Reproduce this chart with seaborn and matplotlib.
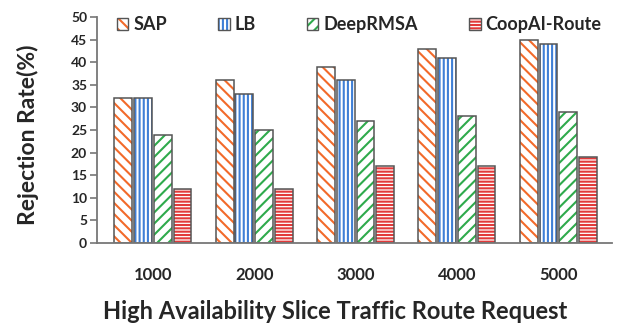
import matplotlib
matplotlib.use("Agg")
import matplotlib.pyplot as plt
from matplotlib.patches import Rectangle, Patch
import seaborn as sns
import pandas as pd

# Rejection rate (%) per method and request load
loads = ["1000", "2000", "3000", "4000", "5000"]
methods = ["SAP", "LB", "DeepRMSA", "CoopAI-Route"]
sap = [32, 36, 39, 43, 45]
lb = [32, 33, 36, 41, 44]
deeprmsa = [24, 25, 27, 28, 29]
coopai = [12, 12, 17, 17, 19]

colors = ["#f26a2a", "#3f7fd6", "#2faa4c", "#e23a3a"]
hatches = ["\\\\\\", "||||", "///", "-----"]
outline = "#555555"

sns.set_style("white")
plt.rcParams["font.family"] = ["Lato", "DejaVu Sans"]
plt.rcParams["font.weight"] = "bold"
plt.rcParams["hatch.linewidth"] = 1.5

df = pd.DataFrame({
    "load": loads * 4,
    "method": sum([[m] * len(loads) for m in methods], []),
    "rate": sap + lb + deeprmsa + coopai,
})

fig = plt.figure(figsize=(6.21, 3.27), dpi=100)
ax = fig.add_axes([0.156, 0.257, 0.83, 0.691])

sns.barplot(data=df, x="load", y="rate", hue="method", hue_order=methods,
            order=loads, palette=["white"] * 4, width=0.78, gap=0.1,
            ax=ax, legend=False, errorbar=None, saturation=1)

# Colored hatch inside, dark outline on top
for i, container in enumerate(ax.containers):
    for bar in container:
        bar.set_facecolor("white")
        bar.set_hatch(hatches[i])
        bar.set_edgecolor(colors[i])
        bar.set_linewidth(0)
        ax.add_patch(Rectangle(bar.get_xy(), bar.get_width(), bar.get_height(),
                               fill=False, edgecolor=outline, linewidth=1.1,
                               zorder=bar.get_zorder() + 0.1))

ax.set_ylim(0, 50)
ax.set_xlim(-0.553, 4.533)
ax.set_yticks(range(0, 51, 5))

for side in ["top", "right"]:
    ax.spines[side].set_visible(False)
for side in ["left", "bottom"]:
    ax.spines[side].set_color("#777777")
    ax.spines[side].set_linewidth(1.3)

ax.tick_params(axis="y", direction="out", length=5, width=1.2, color="#777777",
               labelsize=10, pad=2, left=True)
ax.tick_params(axis="x", length=0, labelsize=12, pad=17)
for lab in ax.get_xticklabels() + ax.get_yticklabels():
    lab.set_fontweight("bold")

ax.set_xlabel("High Availability Slice Traffic Route Request", fontsize=17,
              fontweight="bold", va="center")
ax.set_ylabel("Rejection Rate(%)", fontsize=16.5, fontweight="bold", va="center")
ax.xaxis.set_label_coords(0.462, -0.305)
ax.yaxis.set_label_coords(-0.134, 0.478)

handles = []
for i in range(4):
    fill = Patch(facecolor="white", edgecolor=colors[i], hatch=hatches[i],
                 linewidth=0)
    frame = Patch(facecolor="none", edgecolor=outline, linewidth=1.0)
    handles.append((fill, frame))
leg = ax.legend(handles, methods, ncol=4, loc="upper left",
                bbox_to_anchor=(0.025, 1.035), frameon=False,
                prop={"size": 13, "weight": "bold"},
                handlelength=0.62, handleheight=0.62, handletextpad=0.28,
                columnspacing=2.85, borderaxespad=0)

fig.savefig("out.png", dpi=100, facecolor="white")
